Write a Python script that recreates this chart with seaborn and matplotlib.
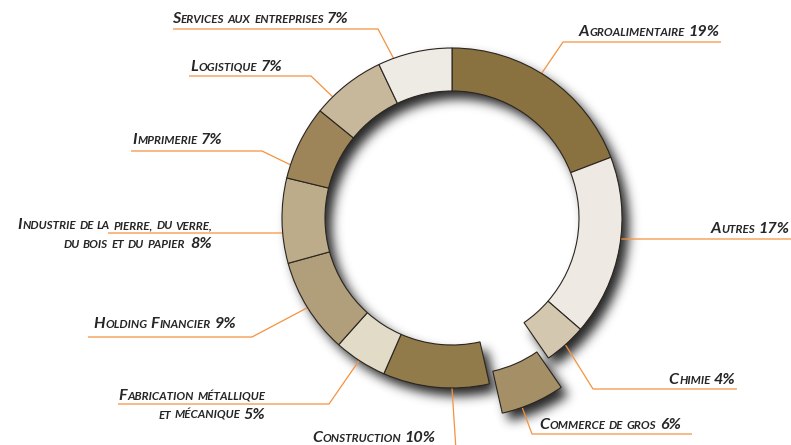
import numpy as np
import matplotlib
matplotlib.use("Agg")
import matplotlib.pyplot as plt
import seaborn as sns

# ---------------- data ----------------
categories = ["Agroalimentaire", "Autres", "Chimie", "Commerce de gros", "Construction",
              "Fabrication métallique et mécanique", "Holding Financier",
              "Industrie de la pierre, du verre, du bois et du papier",
              "Imprimerie", "Logistique", "Services aux entreprises"]
shares = [19, 17, 4, 6, 10, 5, 9, 8, 7, 7, 7]
label_texts = ["Agroalimentaire 19%", "Autres 17%", "Chimie 4%", "Commerce de gros 6%",
               "Construction 10%", "Fabrication métallique\net mécanique 5%",
               "Holding Financier 9%", "Industrie de la pierre, du verre,\ndu bois et du papier  8%",
               "Imprimerie 7%", "Logistique 7%", "Services aux entreprises 7%"]
slice_colors = ["#8A7240", "#EEEAE3", "#D4C7AF", "#A48F66", "#917B4A", "#E1DBC8",
                "#B19E7A", "#BCAC8A", "#9D8559", "#C7B89C", "#EEEAE4"]
explode = [0, 0, 0, 32, 0, 0, 0, 0, 0, 0, 0]

# ---------------- layout (image pixel coords, y down) ----------------
W, H = 791, 445
layout = [
    dict(tx=720, ty=36, ha="right", ul=(563, 721, 42), elbow=(563, 42), frac=0.46),
    dict(tx=790, ty=233, ha="right", ul=(620, 791, 239), elbow=(620, 239), frac=0.45),
    dict(tx=736, ty=384, ha="right", ul=(593, 737, 389), elbow=(593, 389), frac=0.50),
    dict(tx=539, ty=429, ha="left", ul=(532, 692, 434), elbow=(532, 434), frac=0.68),
    dict(tx=312, ty=442, ha="left", ul=None, elbow=(456, 450), frac=0.35),
    dict(tx=266, ty=400, ha="right", ul=(118, 329, 404), elbow=(329, 404), frac=0.52),
    dict(tx=93, ty=328, ha="left", ul=(88, 252, 337), elbow=(252, 337), frac=0.50),
    dict(tx=213, ty=229, ha="right", ul=(108, 283, 233), elbow=(283, 233), frac=0.36),
    dict(tx=132, ty=144, ha="left", ul=(131, 262, 151), elbow=(262, 151), frac=0.18),
    dict(tx=190, ty=71, ha="left", ul=(189, 311, 76), elbow=(311, 76), frac=0.25),
    dict(tx=172, ty=23, ha="left", ul=(173, 378, 29), elbow=(378, 29), frac=0.21),
]
LINE_GAP = 19
ORANGE = "#F5923E"
TXT = "#262626"
BIG, SMALL = 11.6, 8.4
FONT = "Lato"

sns.set_theme(style="white")
plt.rcParams["font.family"] = [FONT, "DejaVu Sans"]

fig = plt.figure(figsize=(W / 100, H / 100), dpi=100)
ax = fig.add_axes([0, 0, 1, 1])

def Y(y):
    return H - y

center = (452, Y(218))
wedges, _ = ax.pie(shares, colors=sns.color_palette(slice_colors), startangle=90,
                   counterclock=False, radius=170, center=center, explode=explode,
                   frame=True,
                   wedgeprops=dict(width=43, edgecolor="#2a2520", linewidth=0.8, zorder=2))

# ---------------- drop shadow from the wedge shapes ----------------
def gblur(a, s):
    r = int(3 * s)
    k = np.exp(-0.5 * (np.arange(-r, r + 1) / s) ** 2)
    k /= k.sum()
    a = np.apply_along_axis(lambda m: np.convolve(m, k, mode="same"), 0, a)
    a = np.apply_along_axis(lambda m: np.convolve(m, k, mode="same"), 1, a)
    return a

off = (7, -8)
gx, gy = np.meshgrid(np.arange(W) + 0.5 - off[0], np.arange(H) + 0.5 - off[1])
pts = np.column_stack([gx.ravel(), gy.ravel()])
mask = np.zeros(W * H, dtype=float)
for w in wedges:
    p = w.get_patch_transform().transform_path(w.get_path())
    mask = np.maximum(mask, p.contains_points(pts).astype(float))
mask = gblur(mask.reshape(H, W), 5.5)
rgba = np.zeros((H, W, 4))
rgba[..., 3] = np.clip(mask * 0.85, 0, 1)
ax.imshow(rgba, extent=(0, W, 0, H), origin="lower", zorder=0.5, interpolation="bilinear")

ax.set_xlim(0, W)
ax.set_ylim(0, H)
ax.set_aspect("equal")
ax.axis("off")

# ---------------- small-caps labels ----------------
renderer = fig.canvas.get_renderer()

def measure(s, size):
    t = ax.text(0, 0, s, fontsize=size, fontweight="bold", fontstyle="italic")
    w = t.get_window_extent(renderer).width
    t.remove()
    return w

SPACE_W = measure("A A", SMALL) - measure("AA", SMALL)

def runs_of(s):
    out = []
    for ch in s:
        if ch == " ":
            kind = "sp"
        elif ch.islower() or ch in ",.":
            kind = "s"
        else:
            kind = "b"
        c = ch.upper()
        if out and out[-1][0] == kind:
            out[-1][1] += c
        else:
            out.append([kind, c])
    return out

def smallcaps(x, y, s, ha):
    items = []
    total = 0.0
    for kind, chunk in runs_of(s):
        if kind == "sp":
            wdt = SPACE_W * len(chunk) * 1.1
            items.append((None, wdt))
        else:
            size = BIG if kind == "b" else SMALL
            t = ax.text(0, 0, chunk, fontsize=size, fontweight="bold", fontstyle="italic",
                        color=TXT, ha="left", va="baseline", zorder=5)
            wdt = t.get_window_extent(renderer).width + 0.6
            items.append((t, wdt))
        total += wdt
    cx = x - total if ha == "right" else x
    for t, wdt in items:
        if t is not None:
            t.set_position((cx, y))
        cx += wdt

for w, lay, txt in zip(wedges, layout, label_texts):
    for i, line in enumerate(txt.split("\n")):
        smallcaps(lay["tx"], Y(lay["ty"] + i * LINE_GAP), line, lay["ha"])
    th = np.deg2rad(w.theta2 - lay["frac"] * (w.theta2 - w.theta1))
    ax_, ay_ = w.center[0] + w.r * np.cos(th), w.center[1] + w.r * np.sin(th)
    ex, ey = lay["elbow"]
    xs, ys = [ax_, ex], [ay_, Y(ey)]
    if lay["ul"] is not None:
        x0, x1, uy = lay["ul"]
        far = x0 if abs(x0 - ex) > abs(x1 - ex) else x1
        xs.append(far)
        ys.append(Y(uy))
    ax.plot(xs, ys, color=ORANGE, lw=0.9, zorder=1, solid_capstyle="butt")

fig.savefig("out.png", dpi=100)
